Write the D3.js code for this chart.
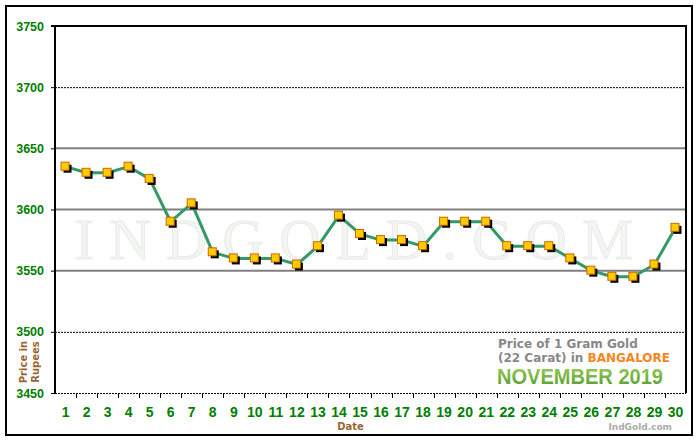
<!DOCTYPE html>
<html><head><meta charset="utf-8">
<script src="https://cdn.jsdelivr.net/npm/d3@7"></script>
<style>body{margin:0;background:#fff}svg{display:block}</style>
</head><body>
<svg id="c" width="700" height="440"></svg>
<script>
const days = d3.range(1, 31).map(String);
const prices = [3635,3630,3630,3635,3625,3590,3605,3565,3560,3560,3560,3555,3570,3595,3580,3575,3575,3570,3590,3590,3590,3570,3570,3570,3560,3550,3545,3545,3555,3585];
const yTicks = [3450,3500,3550,3600,3650,3700,3750];
const solidGrid = [3550,3600,3650];
const dottedGrid = [3500,3700];

const svg = d3.select('#c');
const L = 55, R = 686, T = 26, B = 393;
const x = d3.scaleBand().domain(days).range([L, R]).padding(0);
const y = d3.scaleLinear().domain([3450, 3750]).range([B, T]);
const font = "'DejaVu Sans', Verdana, sans-serif";
const lab = "'Liberation Sans', Arial, sans-serif";

svg.append('rect').attr('x',0).attr('y',0).attr('width',700).attr('height',440).attr('fill','#fff');
svg.append('rect').attr('x',6).attr('y',6).attr('width',686).attr('height',429)
  .attr('fill','none').attr('stroke','#000').attr('stroke-width',2);

// watermark
svg.append('text').attr('x',75).attr('y',259).attr('textLength',558).attr('lengthAdjust','spacing')
  .attr('font-family',"'Liberation Serif', 'DejaVu Serif', serif").attr('font-size',57)
  .attr('fill','#f3f5f3').attr('stroke','#e8ebe8').attr('stroke-width',1)
  .text('INDGOLD.COM');

// grid
svg.append('g').selectAll('line').data(solidGrid).join('line')
  .attr('x1',L).attr('x2',R).attr('y1',d=>y(d)).attr('y2',d=>y(d))
  .attr('stroke','#808080').attr('stroke-width',2);
svg.append('g').selectAll('line').data(dottedGrid).join('line')
  .attr('x1',L).attr('x2',R).attr('y1',d=>y(d)+0.5).attr('y2',d=>y(d)+0.5)
  .attr('stroke','#000').attr('stroke-width',1).attr('stroke-dasharray','2,1');

// bottom axis
const xAxis = d3.axisBottom(x).tickSize(0).tickPadding(14);
const gx = svg.append('g').attr('transform',`translate(0,${B})`).call(xAxis);
gx.select('.domain').remove();
gx.selectAll('text').attr('font-family',lab).attr('font-weight','bold').attr('font-size',14).attr('fill','#008000');
svg.append('line').attr('x1',L).attr('x2',R).attr('y1',B+0.5).attr('y2',B+0.5)
  .attr('stroke','#000').attr('stroke-width',1).attr('stroke-dasharray','2,1');
svg.append('g').selectAll('line').data(days.slice(1)).join('line')
  .attr('x1',d=>Math.round(x(d))+0.5).attr('x2',d=>Math.round(x(d))+0.5).attr('y1',B).attr('y2',B+5)
  .attr('stroke','#000').attr('stroke-width',1);

// left axis
const yAxis = d3.axisLeft(y).tickValues(yTicks).tickSize(4).tickPadding(7).tickFormat(d3.format('d'));
const gy = svg.append('g').attr('transform',`translate(${L},0)`).call(yAxis);
gy.select('.domain').remove();
gy.selectAll('.tick line').attr('stroke','#000');
gy.selectAll('text').attr('font-family',lab).attr('font-weight','bold').attr('font-size',12.5).attr('fill','#008000');

// frame lines
svg.append('line').attr('x1',L).attr('x2',L).attr('y1',T-1).attr('y2',B).attr('stroke','#000').attr('stroke-width',2);
svg.append('line').attr('x1',L-4).attr('x2',R+1).attr('y1',T).attr('y2',T).attr('stroke','#000').attr('stroke-width',2);
svg.append('line').attr('x1',R).attr('x2',R).attr('y1',T-1).attr('y2',B).attr('stroke','#000').attr('stroke-width',2);

// line
const cx = d => x(d) + x.bandwidth()/2;
const pts = days.map((d,i)=>[cx(d), y(prices[i])]);
svg.append('path').attr('d', d3.line()(pts)).attr('fill','none')
  .attr('stroke','#339966').attr('stroke-width',3).attr('stroke-linejoin','round');

// markers
const m = svg.append('g');
m.selectAll('rect.s').data(pts).join('rect').attr('class','s')
  .attr('x',p=>p[0]-2).attr('y',p=>p[1]-2).attr('width',8).attr('height',8).attr('fill','#000');
m.selectAll('rect.m').data(pts).join('rect').attr('class','m')
  .attr('x',p=>p[0]-4.5).attr('y',p=>p[1]-4.5).attr('width',8).attr('height',8)
  .attr('fill','#FFCC00').attr('stroke','#CC6600').attr('stroke-width',1);

// axis titles
svg.append('text').attr('x',(L+R)/2 - 20).attr('y',430).attr('text-anchor','middle')
  .attr('font-family',font).attr('font-weight','bold').attr('font-size',10).attr('fill','#996633').text('Date');
const yt = svg.append('text').attr('transform','translate(27,362) rotate(-90)').attr('text-anchor','middle')
  .attr('font-family',font).attr('font-weight','bold').attr('font-size',10).attr('fill','#996633');
yt.append('tspan').attr('x',0).attr('dy',0).text('Price in');
yt.append('tspan').attr('x',0).attr('dy',12).text('Rupees');

// caption
const defs = svg.append('defs');
const g = defs.append('linearGradient').attr('id','gg').attr('x1',0).attr('y1',0).attr('x2',0).attr('y2',1);
g.append('stop').attr('offset','0%').attr('stop-color','#a4d062');
g.append('stop').attr('offset','100%').attr('stop-color','#4e9a2a');
svg.append('text').attr('x',498).attr('y',348).attr('font-family',font).attr('font-weight','bold')
  .attr('font-size',12).attr('fill','#888').text('Price of 1 Gram Gold');
const t2 = svg.append('text').attr('x',498).attr('y',362).attr('font-family',font).attr('font-weight','bold')
  .attr('font-size',12).attr('fill','#888');
t2.append('tspan').text('(22 Carat) in ');
t2.append('tspan').attr('fill','#F7861E').text('BANGALORE');
svg.append('text').attr('x',497).attr('y',384).attr('textLength',166).attr('lengthAdjust','spacingAndGlyphs')
  .attr('font-family',lab).attr('font-weight','bold')
  .attr('font-size',22).attr('fill','url(#gg)').text('NOVEMBER 2019');
svg.append('text').attr('x',672).attr('y',430).attr('text-anchor','end').attr('font-family',font).attr('font-weight','bold')
  .attr('font-size',9).attr('fill','#aaa').text('IndGold.com');
</script>
</body></html>
